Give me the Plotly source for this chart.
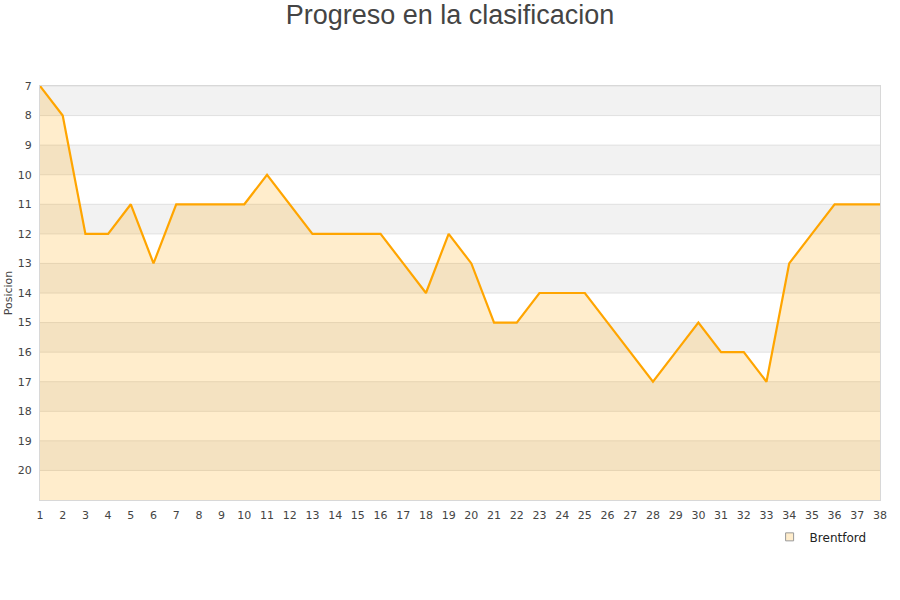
import plotly.graph_objects as go

jornadas = list(range(1, 39))
posiciones = [7, 8, 12, 12, 11, 13, 11, 11, 11, 11, 10, 11, 12, 12, 12, 12, 13, 14, 12, 13,
              15, 15, 14, 14, 14, 15, 16, 17, 16, 15, 16, 16, 17, 13, 12, 11, 11, 11]
equipo = "Brentford"
y_ticks = list(range(7, 21))
y_min, y_max = 7, 21

fig = go.Figure()

# band shapes
for b in range(y_min, y_max):
    fig.add_shape(type="rect", xref="paper", yref="y", x0=0, x1=1, y0=b, y1=b + 1,
                  fillcolor="#f2f2f2" if (b - y_min) % 2 == 0 else "#ffffff",
                  line=dict(width=0), layer="below")
    fig.add_shape(type="line", xref="paper", yref="y", x0=0, x1=1, y0=b, y1=b,
                  line=dict(color="#e0e0e0", width=1), layer="below")

# baseline for fill
fig.add_trace(go.Scatter(x=jornadas, y=[y_max] * len(jornadas), mode="lines",
                         line=dict(width=0), showlegend=False, hoverinfo="skip"))
fig.add_trace(go.Scatter(x=jornadas, y=posiciones, mode="lines", name=equipo,
                         line=dict(color="#FFA500", width=2.2),
                         fill="tonexty", fillcolor="rgba(255,165,0,0.2)",
                         showlegend=False))
# legend entry
fig.add_trace(go.Scatter(x=[None], y=[None], mode="markers", name=equipo,
                         marker=dict(symbol="square", size=8, color="#FFEDCC",
                                     line=dict(color="#999999", width=1))))

fig.update_layout(
    width=900, height=600,
    paper_bgcolor="white", plot_bgcolor="white",
    margin=dict(l=40, r=20, t=86, b=100, autoexpand=False),
    title=dict(text="Progreso en la clasificacion", x=0.5, xanchor="center",
               xref="container", yref="container",
               y=1 - 15 / 600, yanchor="middle", automargin=False,
               font=dict(family="Liberation Sans, Arial", size=27, color="#444444")),
    font=dict(family="DejaVu Sans", size=11, color="#444444"),
    xaxis=dict(range=[1, 38], tickmode="array", tickvals=jornadas,
               ticktext=[str(j) for j in jornadas], showgrid=False, zeroline=False,
               showline=True, linecolor="#d8d8d8", mirror=True, ticks="",
               automargin=False, ticklabelstandoff=5,
               tickfont=dict(size=11, color="#444444")),
    yaxis=dict(range=[y_max, y_min], tickmode="array", tickvals=y_ticks,
               ticktext=[str(t) for t in y_ticks], showgrid=False, zeroline=False,
               showline=True, linecolor="#d8d8d8", mirror=True, ticks="",
               automargin=False, ticklabelstandoff=5,
               title=dict(text="Posicion", font=dict(size=11, color="#444444"), standoff=2),
               tickfont=dict(size=11, color="#444444")),
    legend=dict(x=0.99, xanchor="right", y=-0.089, yanchor="middle",
                bgcolor="rgba(0,0,0,0)", itemwidth=30,
                font=dict(size=12, color="#222222")),
    showlegend=True,
)

fig.write_html("out.html", config={"displayModeBar": False},
               post_script="document.body.style.margin='0';")
